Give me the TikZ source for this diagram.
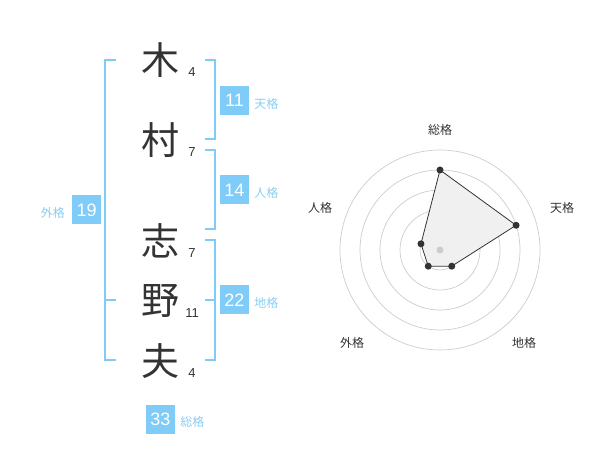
\documentclass[tikz,border=0pt]{standalone}
\usepackage{fontspec}
\setmainfont{Liberation Sans}
\newfontfamily\jp{Noto Sans CJK JP}
\usetikzlibrary{positioning}
\definecolor{kakublue}{HTML}{7FCCF8}
\definecolor{kakutext}{HTML}{8ACDF2}
\definecolor{ink}{HTML}{333333}
\definecolor{ringgray}{HTML}{CCCCCC}
\definecolor{polyfill}{HTML}{F0F0F0}

\begin{document}
\begin{tikzpicture}[x=1pt,y=-1pt,
    kanji/.style={font=\jp\fontsize{38}{38}\selectfont, text=ink, inner sep=0pt},
    strokes/.style={font=\fontsize{13}{13}\selectfont, text=ink, inner sep=0pt},
    kakubox/.style={fill=kakublue, text=white, minimum size=29pt, inner sep=0pt,
      font=\fontsize{18}{18}\selectfont},
    kakulabel/.style={font=\jp\fontsize{12}{12}\selectfont, text=kakutext, inner sep=0pt},
    bracket/.style={draw=kakublue, line width=2pt},
    ring/.style={draw=ringgray, line width=0.7pt},
    axislabel/.style={font=\jp\fontsize{12}{12}\selectfont, text=ink, inner sep=0pt}]

  \useasboundingbox (0,0) rectangle (600,470);

  % name and stroke counts
  \foreach \ch/\y/\n [count=\i] in {木/60/4, 村/140/7, 志/241/7, 野/301/11, 夫/361/4} {
    \node[kanji] (ch\i) at (160,\y) {\ch};
    \node[strokes] (n\i) at (192,\y+12.5) {\n};
  }

  % brackets
  \draw[bracket] (116,60) -- (105,60) -- (105,360) -- (116,360) (105,300) -- (116,300);
  \draw[bracket] (205,60) -- (215,60) -- (215,139) -- (205,139);
  \draw[bracket] (205,150) -- (215,150) -- (215,229) -- (205,229);
  \draw[bracket] (205,240) -- (215,240) -- (215,360) -- (205,360) (205,300) -- (215,300);

  % kaku boxes
  \node[kakubox] (kaku-ten) at (234.5,100.5) {11};
  \node[kakulabel, right=5pt of kaku-ten, yshift=-3pt] (lab-ten) {天格};
  \node[kakubox] (kaku-jin) at (234.5,190) {14};
  \node[kakulabel, right=5pt of kaku-jin, yshift=-3pt] (lab-jin) {人格};
  \node[kakubox] (kaku-chi) at (234.5,300) {22};
  \node[kakulabel, right=5pt of kaku-chi, yshift=-3pt] (lab-chi) {地格};
  \node[kakubox] (kaku-gai) at (86.7,210) {19};
  \node[kakulabel, left=7pt of kaku-gai, yshift=-3pt] (lab-gai) {外格};
  \node[kakubox] (kaku-sou) at (160.5,419) {33};
  \node[kakulabel, right=5pt of kaku-sou, yshift=-3pt] (lab-sou) {総格};

  % radar
  \begin{scope}[shift={(440,250)}, yscale=-1]
    \foreach \r in {20,40,...,100} \draw[ring] (0,0) circle[radius=\r pt];
    \coordinate (p-sou) at (90:80);
    \coordinate (p-ten) at (18:80);
    \coordinate (p-chi) at (-54:20);
    \coordinate (p-gai) at (-126:20);
    \coordinate (p-jin) at (162:20);
    \draw[fill=polyfill, draw=ink, line width=0.8pt]
      (p-sou) -- (p-ten) -- (p-chi) -- (p-gai) -- (p-jin) -- cycle;
    \fill[ringgray] (0,0) circle[radius=3.5pt];
    \foreach \p in {sou,ten,chi,gai,jin} \fill[ink] (p-\p) circle[radius=3.5pt];
  \end{scope}
  \node[axislabel] (ax-sou) at (440,130) {総格};
  \node[axislabel] (ax-ten) at (562,208) {天格};
  \node[axislabel] (ax-chi) at (524,343) {地格};
  \node[axislabel] (ax-gai) at (352,343) {外格};
  \node[axislabel] (ax-jin) at (320,208) {人格};
\end{tikzpicture}
\end{document}
